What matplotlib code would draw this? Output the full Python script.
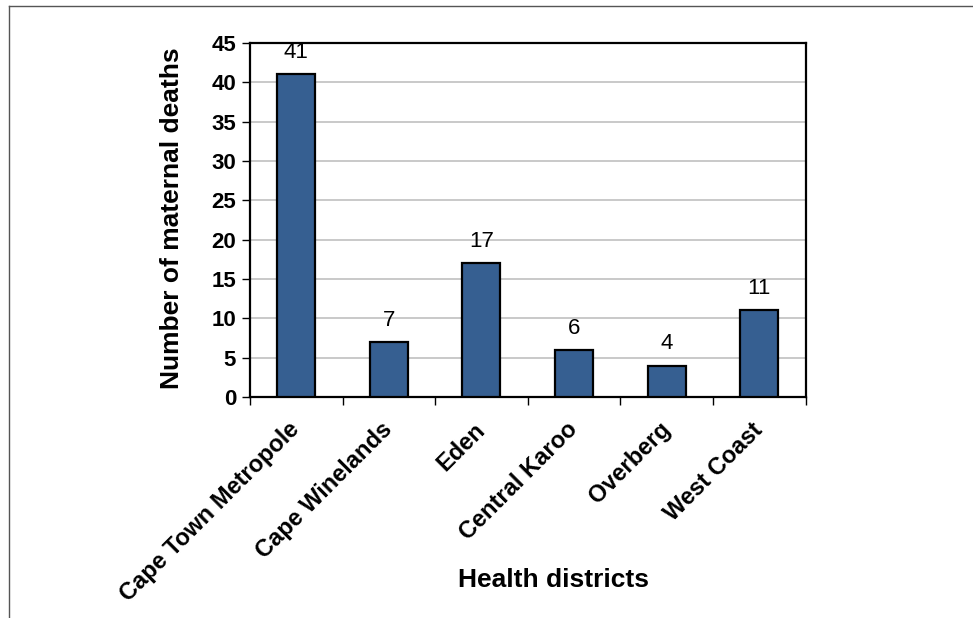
import matplotlib
matplotlib.use("Agg")
import matplotlib.pyplot as plt
from matplotlib.lines import Line2D

districts = ["Cape Town Metropole", "Cape Winelands", "Eden", "Central Karoo", "Overberg", "West Coast"]
deaths = [41, 7, 17, 6, 4, 11]
yticks = [0, 5, 10, 15, 20, 25, 30, 35, 40, 45]

plt.rcParams['font.family'] = ['Liberation Sans', 'DejaVu Sans']

W, H = 973, 618
fig = plt.figure(figsize=(W/100, H/100), dpi=100)
ax = fig.add_axes([250/W, 1-397/H, (805.5-250)/W, (397-43)/H])

x = list(range(len(districts)))
bars = ax.bar(x, deaths, width=0.41, color="#365F91", edgecolor="black", linewidth=1.6, zorder=3)
for xi, v in zip(x, deaths):
    ax.annotate(str(v), (xi, v), xytext=(0, 8), textcoords="offset points",
                ha="center", va="bottom", fontsize=16)

ax.set_xlim(-0.5, len(districts) - 0.5)
ax.set_ylim(0, 45)
ax.set_yticks(yticks)
ax.set_yticklabels([str(t) for t in yticks], fontsize=16, fontweight="bold")
ax.yaxis.grid(True, color="#c0c0c0", linewidth=1.2, zorder=0)
ax.set_axisbelow(True)

ax.set_xticks(x)
ax.set_xticklabels(districts, rotation=45, ha="right", va="center", rotation_mode="anchor",
                   fontsize=17, fontweight="bold")
ax.tick_params(axis="x", length=0, pad=21)
ax.set_xticks([i + 0.5 for i in range(-1, len(districts))], minor=True)
ax.tick_params(axis="x", which="minor", length=6, width=1, direction="out")
ax.tick_params(axis="y", length=6, width=1, direction="out", pad=4)

for s in ax.spines.values():
    s.set_linewidth(1.6)
    s.set_color("black")

ax.set_ylabel("Number of maternal deaths", fontsize=19, fontweight="bold")
ax.yaxis.set_label_coords(172/W, 1-218/H, transform=fig.transFigure)
ax.set_xlabel("Health districts", fontsize=19, fontweight="bold")
ax.xaxis.set_label_coords(553/W, 1-580/H, transform=fig.transFigure)
ax.xaxis.label.set_va("center")
ax.yaxis.label.set_va("center")

fig.add_artist(Line2D([8.5/W, 8.5/W], [0, 1-5.5/H], transform=fig.transFigure, color="#555555", linewidth=1))
fig.add_artist(Line2D([8.5/W, 1], [1-5.5/H, 1-5.5/H], transform=fig.transFigure, color="#555555", linewidth=1))

fig.savefig("out.png", dpi=100)
